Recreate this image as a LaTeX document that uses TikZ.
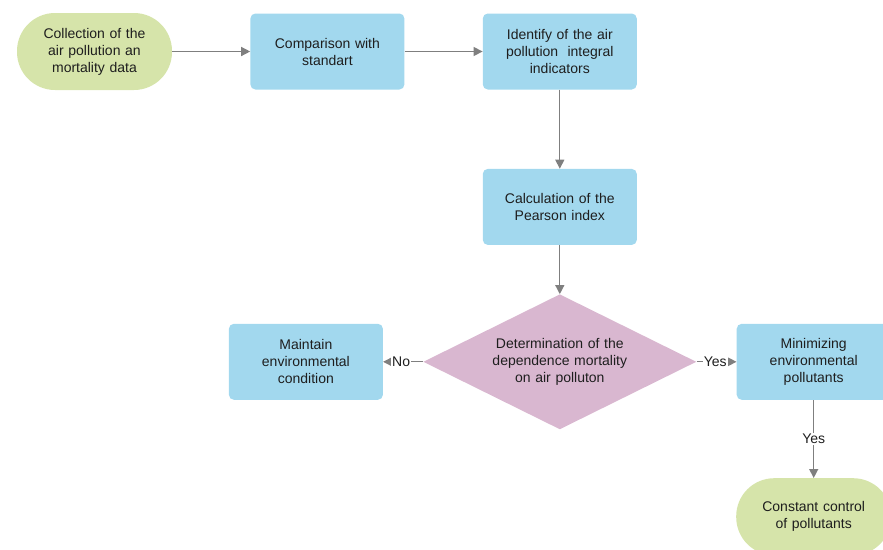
\documentclass[tikz,border=0pt]{standalone}
\usepackage{fontspec}
\setmainfont{Liberation Sans}
\usetikzlibrary{shapes.geometric, arrows.meta, positioning}
\usepackage{xcolor}
\definecolor{boxblue}{HTML}{A2D8EE}
\definecolor{termgreen}{HTML}{D6E4AA}
\definecolor{decpink}{HTML}{D9B7D0}
\definecolor{linegray}{HTML}{7F7F7F}
\definecolor{ink}{HTML}{1E1E1E}
\newcommand{\flowfont}{\fontsize{14}{17}\selectfont}
\tikzset{
  terminal/.style={rectangle, rounded corners=38pt, fill=termgreen,
                   minimum width=155pt, minimum height=77pt, text width=140pt,
                   align=center, font=\flowfont, text=ink},
  process/.style={rectangle, rounded corners=5pt, fill=boxblue,
                  minimum width=154pt, minimum height=76pt, text width=140pt,
                  align=center, font=\flowfont, text=ink},
  decision/.style={diamond, fill=decpink, aspect=2, inner sep=0pt,
                   minimum width=273pt, minimum height=135pt, text width=160pt,
                   align=center, font=\flowfont, text=ink},
  arrow/.style={-{Triangle[length=9pt,width=9pt]}, line width=1.3pt, draw=linegray},
  lbl/.style={fill=white, inner sep=1pt, font=\flowfont, text=ink},
}
\begin{document}
\begin{tikzpicture}
  \useasboundingbox (0pt,0pt) rectangle (883pt,-549pt);

  %% Top row
  \node[terminal] (collect) at (94.5pt,-51.5pt)
    {Collection of the\\air pollution an\\mortality data};
  \node[process, right=78pt of collect] (compare) {Comparison with\\standart};
  \node[process, right=78pt of compare] (identify)
    {Identify of the air\\pollution\ \ integral\\indicators};

  %% Middle column
  \node[process, below=79pt of identify] (pearson) {Calculation of the\\Pearson index};
  \node[decision, below=49pt of pearson] (depend)
    {Determination of the\\dependence mortality\\on air polluton};

  %% Branches
  \node[process, left=40pt of depend] (maintain)
    {Maintain\\environmental\\condition};
  \node[process, right=40pt of depend] (minimize)
    {Minimizing\\environmental\\pollutants};
  \node[terminal, below=78pt of minimize] (control)
    {Constant control\\of pollutants};

  %% Connectors
  \draw[arrow] (collect) -- (compare);
  \draw[arrow] (compare) -- (identify);
  \draw[arrow] (identify) -- (pearson);
  \draw[arrow] (pearson) -- (depend);
  \draw[arrow] (depend.west) -- node[lbl, pos=0.55]{No} (maintain.east);
  \draw[arrow] (depend.east) -- node[lbl, pos=0.47]{Yes} (minimize.west);
  \draw[arrow] (minimize) -- node[lbl]{Yes} (control);
\end{tikzpicture}
\end{document}
